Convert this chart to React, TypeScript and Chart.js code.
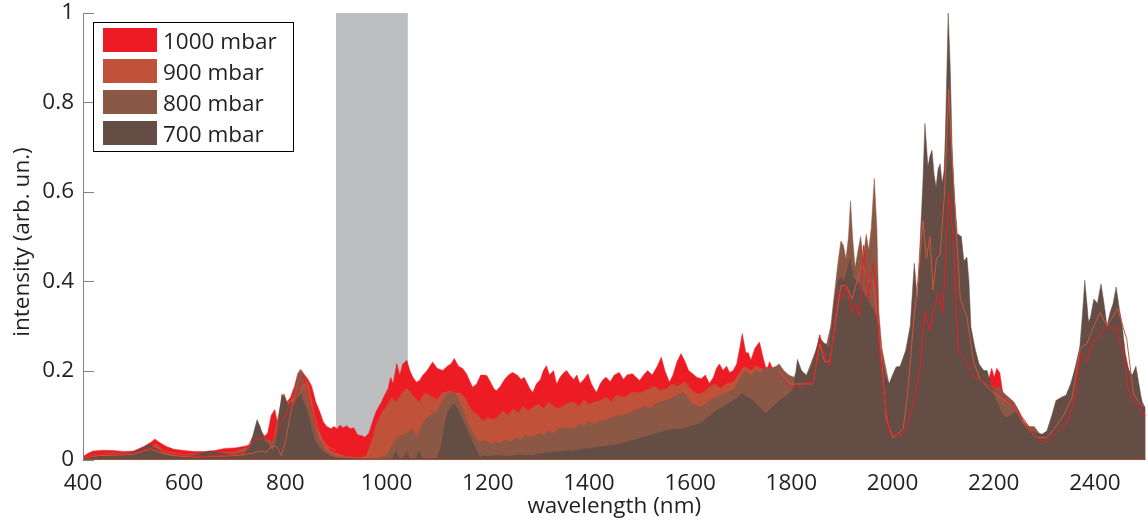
import { useEffect, useRef } from 'react';
import { Chart, registerables } from 'chart.js';

Chart.register(...registerables);

// Axis ticks
const wavelengthTicks = [400, 600, 800, 1000, 1200, 1400, 1600, 1800, 2000, 2200, 2400];
const intensityTicks = [0, 0.2, 0.4, 0.6, 0.8, 1];

// Legend entries (top to bottom)
const pressureLabels = ['1000 mbar', '900 mbar', '800 mbar', '700 mbar'];

// Shaded wavelength window (nm)
const shadedBand = [900, 1042];

// Spectra as [wavelength nm, intensity] pairs
const spectrum1000: [number, number][] = [
  [400, 0.008], [410, 0.015], [420, 0.02], [440, 0.022], [460, 0.021], [480, 0.019], [500, 0.02], [520, 0.03],
  [535, 0.04], [542, 0.047], [550, 0.04], [565, 0.03], [580, 0.024], [600, 0.021], [620, 0.019], [640, 0.019],
  [660, 0.021], [680, 0.026], [700, 0.027], [720, 0.031], [735, 0.035], [745, 0.045], [755, 0.05], [765, 0.06],
  [772, 0.1], [779, 0.113], [785, 0.08], [790, 0.1], [797, 0.148], [803, 0.13], [810, 0.14], [818, 0.165],
  [825, 0.195], [832, 0.2], [838, 0.19], [845, 0.18], [852, 0.165], [860, 0.13], [868, 0.108], [875, 0.085],
  [882, 0.075], [890, 0.07], [896, 0.075], [902, 0.07], [908, 0.078], [915, 0.072], [921, 0.077], [928, 0.07],
  [935, 0.072], [943, 0.056], [950, 0.055], [957, 0.051], [965, 0.06], [972, 0.085], [980, 0.11], [990, 0.13],
  [996, 0.145], [1003, 0.16], [1008, 0.185], [1013, 0.17], [1020, 0.216], [1026, 0.19], [1032, 0.215], [1040, 0.223],
  [1046, 0.2], [1052, 0.185], [1059, 0.174], [1065, 0.178], [1072, 0.19], [1080, 0.2], [1091, 0.219], [1100, 0.205],
  [1111, 0.2], [1120, 0.21], [1127, 0.215], [1134, 0.227], [1142, 0.21], [1150, 0.205], [1158, 0.193], [1165, 0.175],
  [1170, 0.163], [1178, 0.17], [1186, 0.19], [1193, 0.19], [1198, 0.189], [1205, 0.175], [1212, 0.16], [1217, 0.155],
  [1225, 0.165], [1233, 0.18], [1241, 0.19], [1249, 0.196], [1258, 0.19], [1266, 0.18], [1272, 0.185], [1277, 0.174],
  [1283, 0.16], [1289, 0.151], [1296, 0.17], [1304, 0.18], [1310, 0.2], [1316, 0.211], [1322, 0.19], [1330, 0.2],
  [1336, 0.17], [1343, 0.185], [1350, 0.195], [1356, 0.2], [1362, 0.19], [1370, 0.18], [1376, 0.19], [1382, 0.171],
  [1390, 0.18], [1398, 0.193], [1405, 0.17], [1410, 0.16], [1415, 0.151], [1422, 0.17], [1428, 0.18], [1434, 0.185],
  [1442, 0.175], [1450, 0.19], [1460, 0.196], [1468, 0.18], [1475, 0.19], [1486, 0.193], [1493, 0.185], [1500, 0.178],
  [1508, 0.19], [1516, 0.2], [1525, 0.19], [1535, 0.21], [1543, 0.23], [1550, 0.2], [1559, 0.174], [1566, 0.19],
  [1574, 0.22], [1582, 0.238], [1590, 0.22], [1597, 0.2], [1605, 0.193], [1613, 0.185], [1622, 0.182], [1630, 0.19],
  [1638, 0.171], [1646, 0.185], [1652, 0.205], [1658, 0.215], [1665, 0.2], [1672, 0.21], [1678, 0.196], [1685, 0.2],
  [1692, 0.215], [1698, 0.25], [1703, 0.283], [1710, 0.24], [1715, 0.24], [1720, 0.223], [1728, 0.25], [1737, 0.264],
  [1744, 0.23], [1751, 0.2], [1757, 0.22], [1765, 0.2], [1775, 0.19], [1785, 0.18], [1795, 0.175], [1810, 0.17],
  [1850, 0.17], [1880, 0.25], [1900, 0.3], [1950, 0.3], [1975, 0.2], [1990, 0.06], [2020, 0.06], [2040, 0.12],
  [2070, 0.25], [2100, 0.3], [2111, 0.55], [2125, 0.3], [2150, 0.19], [2180, 0.17], [2190, 0.18], [2196, 0.205],
  [2201, 0.185], [2206, 0.205], [2212, 0.195], [2218, 0.15], [2240, 0.11], [2270, 0.07], [2300, 0.04], [2330, 0.06],
  [2360, 0.15], [2400, 0.26], [2440, 0.28], [2465, 0.17], [2480, 0.12], [2500, 0.1],
];

const spectrum900: [number, number][] = [
  [400, 0.005], [420, 0.012], [450, 0.015], [500, 0.017], [530, 0.03], [545, 0.035], [560, 0.02], [600, 0.012],
  [650, 0.015], [700, 0.018], [730, 0.03], [745, 0.07], [760, 0.05], [775, 0.04], [790, 0.12], [800, 0.12],
  [815, 0.14], [830, 0.2], [845, 0.17], [860, 0.09], [875, 0.04], [890, 0.02], [920, 0.008], [950, 0.005],
  [960, 0.01], [970, 0.04], [980, 0.08], [990, 0.105], [1000, 0.12], [1010, 0.14], [1020, 0.13], [1030, 0.15],
  [1040, 0.16], [1048, 0.15], [1055, 0.14], [1065, 0.13], [1075, 0.15], [1085, 0.145], [1091, 0.14], [1100, 0.135],
  [1110, 0.15], [1117, 0.152], [1125, 0.155], [1135, 0.15], [1144, 0.15], [1155, 0.14], [1163, 0.12], [1170, 0.11],
  [1180, 0.1], [1190, 0.088], [1200, 0.095], [1210, 0.09], [1217, 0.093], [1230, 0.11], [1240, 0.1], [1250, 0.115],
  [1260, 0.105], [1270, 0.12], [1280, 0.11], [1289, 0.118], [1300, 0.125], [1310, 0.115], [1320, 0.13], [1330, 0.12],
  [1340, 0.115], [1356, 0.126], [1370, 0.13], [1380, 0.12], [1390, 0.135], [1400, 0.125], [1410, 0.13], [1422, 0.133],
  [1435, 0.14], [1445, 0.13], [1455, 0.145], [1470, 0.14], [1486, 0.152], [1500, 0.15], [1510, 0.155], [1520, 0.16],
  [1530, 0.165], [1540, 0.155], [1553, 0.16], [1565, 0.17], [1575, 0.165], [1590, 0.175], [1600, 0.16], [1610, 0.15],
  [1620, 0.148], [1630, 0.155], [1640, 0.165], [1650, 0.17], [1660, 0.16], [1670, 0.17], [1685, 0.174], [1695, 0.19],
  [1703, 0.205], [1710, 0.208], [1720, 0.2], [1730, 0.21], [1740, 0.205], [1750, 0.2], [1760, 0.19], [1770, 0.18],
  [1790, 0.17], [1850, 0.17], [1880, 0.25], [1900, 0.35], [1940, 0.4], [1962, 0.38], [1975, 0.25], [1990, 0.08],
  [2020, 0.07], [2040, 0.25], [2060, 0.45], [2080, 0.38], [2100, 0.5], [2111, 0.75], [2125, 0.4], [2150, 0.25],
  [2180, 0.17], [2210, 0.15], [2240, 0.12], [2280, 0.05], [2310, 0.05], [2340, 0.1], [2370, 0.24], [2400, 0.28],
  [2440, 0.3], [2465, 0.19], [2480, 0.14], [2500, 0.11],
];

const spectrum800: [number, number][] = [
  [400, 0.004], [420, 0.01], [450, 0.012], [500, 0.016], [520, 0.025], [532, 0.033], [545, 0.025], [560, 0.015],
  [600, 0.01], [650, 0.015], [700, 0.015], [730, 0.025], [744, 0.08], [755, 0.06], [770, 0.035], [780, 0.05],
  [793, 0.14], [805, 0.12], [815, 0.13], [822, 0.175], [829, 0.203], [837, 0.19], [845, 0.15], [855, 0.09],
  [865, 0.05], [880, 0.02], [900, 0.006], [950, 0.003], [980, 0.004], [1000, 0.01], [1010, 0.03], [1020, 0.05],
  [1030, 0.055], [1040, 0.06], [1050, 0.07], [1060, 0.05], [1070, 0.08], [1080, 0.095], [1091, 0.104], [1100, 0.11],
  [1110, 0.13], [1118, 0.145], [1125, 0.15], [1131, 0.153], [1140, 0.14], [1150, 0.115], [1158, 0.09], [1168, 0.065],
  [1176, 0.05], [1183, 0.04], [1195, 0.045], [1205, 0.035], [1215, 0.04], [1223, 0.037], [1235, 0.045], [1245, 0.04],
  [1255, 0.05], [1265, 0.045], [1275, 0.055], [1289, 0.051], [1300, 0.06], [1310, 0.055], [1320, 0.065], [1330, 0.06],
  [1340, 0.07], [1356, 0.073], [1370, 0.07], [1380, 0.08], [1390, 0.075], [1400, 0.085], [1410, 0.08], [1422, 0.088],
  [1435, 0.09], [1445, 0.095], [1455, 0.1], [1470, 0.1], [1486, 0.11], [1500, 0.115], [1510, 0.12], [1520, 0.115],
  [1530, 0.125], [1540, 0.13], [1553, 0.133], [1565, 0.14], [1575, 0.145], [1586, 0.152], [1595, 0.14], [1605, 0.125],
  [1620, 0.118], [1630, 0.125], [1640, 0.135], [1652, 0.14], [1660, 0.145], [1670, 0.15], [1685, 0.156], [1695, 0.175],
  [1703, 0.19], [1710, 0.2], [1720, 0.19], [1730, 0.2], [1740, 0.195], [1750, 0.208], [1760, 0.205], [1770, 0.21],
  [1776, 0.215], [1785, 0.2], [1795, 0.19], [1805, 0.185], [1812, 0.2], [1820, 0.2], [1830, 0.19], [1840, 0.22],
  [1850, 0.25], [1855, 0.27], [1862, 0.26], [1870, 0.26], [1878, 0.3], [1885, 0.37], [1892, 0.44], [1898, 0.49],
  [1903, 0.48], [1908, 0.45], [1913, 0.5], [1917, 0.58], [1921, 0.5], [1926, 0.43], [1932, 0.47], [1937, 0.5],
  [1942, 0.45], [1948, 0.505], [1953, 0.47], [1958, 0.52], [1964, 0.63], [1969, 0.52], [1973, 0.33], [1979, 0.25],
  [1986, 0.21], [1993, 0.17], [2000, 0.16], [2010, 0.17], [2020, 0.19], [2030, 0.2], [2040, 0.3], [2050, 0.35],
  [2060, 0.5], [2070, 0.55], [2080, 0.5], [2090, 0.55], [2100, 0.6], [2110, 0.85], [2118, 0.6], [2128, 0.4],
  [2140, 0.35], [2150, 0.3], [2160, 0.25], [2170, 0.21], [2180, 0.2], [2190, 0.18], [2200, 0.16], [2210, 0.165],
  [2220, 0.15], [2230, 0.14], [2240, 0.13], [2250, 0.11], [2260, 0.085], [2270, 0.075], [2280, 0.075], [2290, 0.06],
  [2300, 0.05], [2310, 0.07], [2320, 0.1], [2350, 0.15], [2380, 0.3], [2400, 0.33], [2420, 0.28], [2440, 0.36],
  [2460, 0.22], [2480, 0.17], [2500, 0.11],
];

const spectrum700: [number, number][] = [
  [400, 0.003], [420, 0.008], [450, 0.01], [480, 0.013], [500, 0.018], [515, 0.025], [532, 0.035], [545, 0.025],
  [560, 0.012], [575, 0.008], [600, 0.006], [620, 0.01], [640, 0.017], [651, 0.02], [665, 0.017], [684, 0.013],
  [700, 0.01], [720, 0.012], [730, 0.03], [737, 0.06], [744, 0.09], [750, 0.075], [758, 0.045], [766, 0.035],
  [775, 0.02], [782, 0.04], [788, 0.1], [793, 0.147], [799, 0.14], [805, 0.12], [811, 0.13], [818, 0.125],
  [824, 0.14], [830, 0.149], [836, 0.13], [843, 0.11], [850, 0.08], [856, 0.05], [865, 0.03], [875, 0.018],
  [890, 0.008], [900, 0.005], [950, 0.002], [1000, 0.002], [1012, 0.004], [1018, 0.02], [1024, 0.004], [1032, 0.003],
  [1040, 0.018], [1046, 0.004], [1058, 0.003], [1064, 0.02], [1070, 0.004], [1090, 0.003], [1100, 0.005], [1108, 0.03],
  [1115, 0.08], [1122, 0.11], [1130, 0.122], [1135, 0.125], [1142, 0.11], [1150, 0.09], [1158, 0.07], [1168, 0.045],
  [1176, 0.025], [1185, 0.005], [1190, 0.01], [1200, 0.008], [1220, 0.01], [1240, 0.008], [1260, 0.012], [1289, 0.01],
  [1300, 0.014], [1320, 0.016], [1340, 0.018], [1356, 0.021], [1370, 0.02], [1390, 0.025], [1410, 0.027], [1422, 0.029],
  [1440, 0.032], [1460, 0.035], [1486, 0.044], [1500, 0.048], [1520, 0.055], [1535, 0.06], [1553, 0.066], [1570, 0.068],
  [1586, 0.07], [1600, 0.075], [1620, 0.082], [1635, 0.095], [1652, 0.111], [1668, 0.12], [1685, 0.133], [1695, 0.14],
  [1703, 0.149], [1713, 0.14], [1723, 0.135], [1735, 0.12], [1750, 0.104], [1760, 0.115], [1777, 0.133], [1797, 0.149],
  [1805, 0.16], [1812, 0.225], [1820, 0.2], [1829, 0.185], [1840, 0.21], [1848, 0.24], [1855, 0.275], [1862, 0.265],
  [1870, 0.255], [1875, 0.253], [1880, 0.3], [1885, 0.357], [1892, 0.4], [1898, 0.41], [1905, 0.4], [1912, 0.43],
  [1916, 0.45], [1922, 0.41], [1930, 0.4], [1940, 0.38], [1950, 0.36], [1960, 0.34], [1968, 0.32], [1975, 0.25],
  [1985, 0.19], [1993, 0.17], [2000, 0.19], [2007, 0.208], [2015, 0.21], [2026, 0.245], [2035, 0.3], [2043, 0.44],
  [2049, 0.36], [2055, 0.5], [2060, 0.62], [2064, 0.753], [2070, 0.656], [2074, 0.68], [2078, 0.693], [2082, 0.64],
  [2086, 0.61], [2090, 0.65], [2094, 0.663], [2098, 0.62], [2103, 0.65], [2107, 0.85], [2110, 1.0], [2114, 0.88],
  [2118, 0.69], [2123, 0.58], [2128, 0.506], [2136, 0.5], [2141, 0.445], [2147, 0.454], [2151, 0.4], [2155, 0.297],
  [2163, 0.25], [2171, 0.215], [2180, 0.2], [2187, 0.2], [2194, 0.17], [2202, 0.14], [2210, 0.12], [2218, 0.1],
  [2226, 0.095], [2236, 0.1], [2245, 0.11], [2255, 0.09], [2264, 0.073], [2275, 0.065], [2285, 0.06], [2296, 0.058],
  [2305, 0.065], [2315, 0.1], [2323, 0.133], [2333, 0.14], [2343, 0.145], [2352, 0.17], [2362, 0.21], [2370, 0.25],
  [2375, 0.32], [2380, 0.402], [2385, 0.34], [2388, 0.3], [2393, 0.33], [2398, 0.36], [2405, 0.35], [2412, 0.394],
  [2418, 0.35], [2424, 0.3], [2430, 0.33], [2436, 0.35], [2442, 0.387], [2448, 0.34], [2453, 0.31], [2460, 0.24],
  [2467, 0.2], [2474, 0.19], [2481, 0.21], [2487, 0.17], [2493, 0.13], [2500, 0.115],
];

// Thin reference traces overlaid on the filled spectra (visible and NIR parts)
const trace1000Vis: [number, number][] = [
  [400, 0.005], [430, 0.012], [470, 0.013], [500, 0.015], [520, 0.022], [540, 0.028], [560, 0.018], [580, 0.012],
  [620, 0.008], [660, 0.009], [700, 0.012], [720, 0.015], [735, 0.05], [750, 0.045], [762, 0.05], [770, 0.04],
  [780, 0.05], [790, 0.08], [800, 0.1], [808, 0.12], [815, 0.12], [822, 0.14], [830, 0.17], [836, 0.19],
  [842, 0.16], [850, 0.12], [860, 0.08], [875, 0.05], [890, 0.04], [900, 0.035],
];
const trace1000Nir: [number, number][] = [
  [1775, 0.19], [1790, 0.175], [1800, 0.16], [1810, 0.17], [1820, 0.16], [1830, 0.175], [1843, 0.17], [1850, 0.22],
  [1856, 0.28], [1866, 0.23], [1876, 0.21], [1885, 0.3], [1893, 0.38], [1900, 0.36], [1909, 0.39], [1919, 0.33],
  [1927, 0.35], [1935, 0.32], [1943, 0.48], [1952, 0.36], [1962, 0.44], [1968, 0.38], [1975, 0.24], [1985, 0.13],
  [1995, 0.06], [2005, 0.056], [2021, 0.06], [2030, 0.08], [2041, 0.125], [2054, 0.2], [2064, 0.33], [2074, 0.29],
  [2080, 0.33], [2090, 0.37], [2099, 0.33], [2105, 0.45], [2111, 0.596], [2120, 0.5], [2130, 0.24], [2140, 0.23],
  [2147, 0.22], [2156, 0.19], [2173, 0.18], [2199, 0.16], [2220, 0.14], [2239, 0.12], [2260, 0.09], [2278, 0.06],
  [2290, 0.045], [2305, 0.04], [2324, 0.06], [2340, 0.075], [2351, 0.1], [2362, 0.15], [2371, 0.24], [2384, 0.22],
  [2395, 0.26], [2404, 0.27], [2415, 0.29], [2427, 0.3], [2435, 0.29], [2443, 0.3], [2450, 0.26], [2456, 0.25],
  [2465, 0.16], [2476, 0.13], [2486, 0.12], [2496, 0.1], [2500, 0.1],
];
const trace900Vis: [number, number][] = [
  [400, 0.004], [430, 0.01], [470, 0.011], [500, 0.013], [520, 0.02], [535, 0.025], [555, 0.015], [580, 0.01],
  [620, 0.007], [660, 0.008], [700, 0.01], [720, 0.012], [735, 0.015], [750, 0.02], [762, 0.017], [772, 0.03],
  [783, 0.03], [792, 0.01], [800, 0.04], [808, 0.09], [815, 0.13], [822, 0.14], [830, 0.15], [838, 0.17],
  [845, 0.14], [855, 0.1], [870, 0.05], [885, 0.03], [900, 0.02],
];
const trace900Nir: [number, number][] = [
  [1775, 0.2], [1790, 0.18], [1800, 0.17], [1820, 0.17], [1843, 0.17], [1856, 0.26], [1866, 0.22], [1876, 0.22],
  [1886, 0.3], [1898, 0.39], [1909, 0.39], [1920, 0.36], [1930, 0.4], [1940, 0.44], [1950, 0.4], [1962, 0.4],
  [1975, 0.27], [1988, 0.09], [2001, 0.05], [2012, 0.06], [2021, 0.07], [2030, 0.15], [2041, 0.3], [2050, 0.4],
  [2060, 0.536], [2067, 0.45], [2074, 0.5], [2080, 0.38], [2087, 0.45], [2094, 0.46], [2103, 0.6], [2111, 0.83],
  [2120, 0.63], [2134, 0.36], [2147, 0.32], [2160, 0.22], [2173, 0.18], [2200, 0.15], [2239, 0.12], [2260, 0.08],
  [2285, 0.05], [2305, 0.05], [2320, 0.07], [2338, 0.1], [2355, 0.14], [2371, 0.25], [2384, 0.26], [2398, 0.3],
  [2410, 0.33], [2424, 0.3], [2435, 0.32], [2445, 0.34], [2455, 0.3], [2463, 0.27], [2476, 0.15], [2486, 0.13],
  [2496, 0.12], [2500, 0.12],
];

const FONT = "'Open Sans', 'DejaVu Sans', sans-serif";
const FONT_SIZE = 22.5;
const TEXT_COLOR = '#231F20';
const AXIS_COLOR = '#808285';
const FILL_COLORS = ['#ED1C24', '#C0523A', '#8C5846', '#634D45'];
const TRACE_1000 = '#ED1C24';
const TRACE_900 = '#D2543C';
const BAND_COLOR = '#BCBEC0';

const toPoints = (pairs: [number, number][]) => pairs.map(([x, y]) => ({ x, y }));
const withGap = (a: [number, number][], b: [number, number][]) => [
  ...toPoints(a),
  { x: (a[a.length - 1][0] + b[0][0]) / 2, y: null },
  ...toPoints(b),
];

const bandPlugin = {
  id: 'shadedBand',
  beforeDatasetsDraw(chart: any) {
    const { ctx, chartArea, scales } = chart;
    const x0 = scales.x.getPixelForValue(shadedBand[0]);
    const x1 = scales.x.getPixelForValue(shadedBand[1]);
    ctx.save();
    ctx.fillStyle = BAND_COLOR;
    ctx.fillRect(x0, chartArea.top, x1 - x0, chartArea.bottom - chartArea.top);
    ctx.restore();
  },
};

const decorPlugin = {
  id: 'decor',
  afterDraw(chart: any) {
    const { ctx, chartArea, scales } = chart;
    const { left, right, top, bottom } = chartArea;
    ctx.save();

    // baseline
    ctx.strokeStyle = '#A5503C';
    ctx.lineWidth = 1;
    ctx.beginPath();
    ctx.moveTo(left, bottom - 0.5);
    ctx.lineTo(right, bottom - 0.5);
    ctx.stroke();

    // y axis line with inward ticks
    ctx.strokeStyle = AXIS_COLOR;
    ctx.beginPath();
    ctx.moveTo(left + 0.5, top);
    ctx.lineTo(left + 0.5, bottom);
    for (const v of intensityTicks) {
      const y = Math.round(scales.y.getPixelForValue(v)) + 0.5;
      ctx.moveTo(left, y);
      ctx.lineTo(left + 11, y);
    }
    ctx.stroke();

    // axis titles
    ctx.fillStyle = TEXT_COLOR;
    ctx.font = `${FONT_SIZE}px ${FONT}`;
    ctx.textAlign = 'center';
    ctx.textBaseline = 'alphabetic';
    ctx.fillText('wavelength (nm)', (left + right) / 2, 513);
    ctx.save();
    ctx.translate(29, 242);
    ctx.rotate(-Math.PI / 2);
    ctx.fillText('intensity (arb. un.)', 0, 0);
    ctx.restore();

    // legend
    const bx = 93.5, by = 22.5, bw = 200, bh = 129;
    ctx.fillStyle = '#FFFFFF';
    ctx.fillRect(bx, by, bw, bh);
    ctx.strokeStyle = '#000000';
    ctx.strokeRect(bx, by, bw, bh);
    ctx.textAlign = 'left';
    pressureLabels.forEach((label, i) => {
      const sy = 28 + i * 31;
      ctx.fillStyle = FILL_COLORS[i];
      ctx.fillRect(103, sy, 54, 24);
      ctx.fillStyle = TEXT_COLOR;
      ctx.fillText(label, 163, sy + 21);
    });

    ctx.restore();
  },
};

export default function App() {
  const canvasRef = useRef<HTMLCanvasElement | null>(null);

  useEffect(() => {
    document.body.style.margin = '0';
    const canvas = canvasRef.current;
    if (!canvas) return;

    const area = (label: string, pairs: [number, number][], color: string) => ({
      label,
      data: toPoints(pairs),
      backgroundColor: color,
      borderColor: color,
      borderWidth: 0.5,
      fill: 'origin',
      pointRadius: 0,
      tension: 0,
    });

    const chart = new Chart(canvas, {
      type: 'line',
      data: {
        datasets: [
          {
            label: 'trace 1000',
            data: withGap(trace1000Vis, trace1000Nir),
            borderColor: TRACE_1000,
            borderWidth: 1,
            fill: false,
            pointRadius: 0,
            spanGaps: false,
          },
          {
            label: 'trace 900',
            data: withGap(trace900Vis, trace900Nir),
            borderColor: TRACE_900,
            borderWidth: 1,
            fill: false,
            pointRadius: 0,
            spanGaps: false,
          },
          area(pressureLabels[3], spectrum700, FILL_COLORS[3]),
          area(pressureLabels[2], spectrum800, FILL_COLORS[2]),
          area(pressureLabels[1], spectrum900, FILL_COLORS[1]),
          area(pressureLabels[0], spectrum1000, FILL_COLORS[0]),
        ] as any,
      },
      options: {
        responsive: false,
        animation: false,
        devicePixelRatio: 1,
        layout: { padding: { top: 13, right: 2.5, left: 0, bottom: 0 } },
        plugins: { legend: { display: false }, tooltip: { enabled: false } },
        scales: {
          x: {
            type: 'linear',
            min: 400,
            max: 2500,
            grid: { display: false, drawTicks: false },
            border: { display: false },
            ticks: {
              font: { family: FONT, size: FONT_SIZE },
              color: TEXT_COLOR,
              padding: 10,
              maxRotation: 0,
              autoSkip: false,
              callback: (v: any) => String(v),
            },
            afterBuildTicks: (s: any) => {
              s.ticks = wavelengthTicks.map((value) => ({ value }));
            },
            afterFit: (s: any) => {
              s.height = 64;
              s.paddingRight = 0;
            },
          },
          y: {
            min: 0,
            max: 1,
            grid: { display: false, drawTicks: false },
            border: { display: false },
            ticks: {
              font: { family: FONT, size: FONT_SIZE },
              color: TEXT_COLOR,
              padding: 9,
              callback: (v: any) => String(+(+v).toFixed(1)),
            },
            afterBuildTicks: (s: any) => {
              s.ticks = intensityTicks.map((value) => ({ value }));
            },
            afterFit: (s: any) => {
              s.width = 83;
              s.paddingTop = 0;
              s.paddingBottom = 0;
            },
          },
        },
      },
      plugins: [bandPlugin, decorPlugin],
    });

    return () => chart.destroy();
  }, []);

  return <canvas ref={canvasRef} width={1148} height={524} style={{ display: 'block' }} />;
}
